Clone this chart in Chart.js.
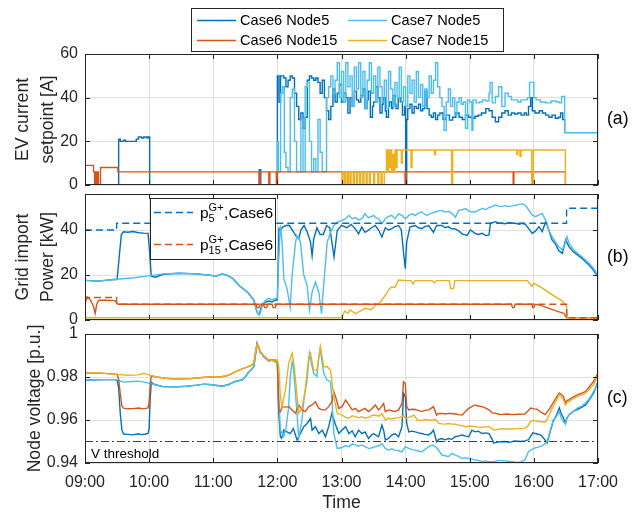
<!DOCTYPE html>
<html>
<head>
<meta charset="utf-8">
<script src="https://cdn.jsdelivr.net/npm/chart.js@4.4.1/dist/chart.umd.min.js"></script>
<style>
  body { margin: 0; background: #fff; }
  #wrap { position: relative; width: 638px; height: 514px; }
  #wrap canvas { position: absolute; left: 0; top: 0; }
</style>
</head>
<body>
<div id="wrap">
  <canvas id="chartA" width="638" height="514"></canvas>
  <canvas id="chartB" width="638" height="514"></canvas>
  <canvas id="chartC" width="638" height="514"></canvas>
</div>
<script>
// Time axis: minutes after 09:00
const hourLabels = ['09:00', '10:00', '11:00', '12:00', '13:00', '14:00', '15:00', '16:00', '17:00'];
const legendNames = ['Case6 Node5', 'Case7 Node5', 'Case6 Node15', 'Case7 Node15'];

// (a) EV current setpoint [A]  -- [minute, value]
const aCase6Node5 = [[0,0],[31.5,21],[33,20],[36,20.5],[38,20],[48,21],[50,22],[53,21.5],[55,22],[58,21.5],[59,22],[60.5,0],[163,7],[164.5,0],
  [180,50],[181.5,38],[183,50],[186,49],[188,45],[190,48],[192,50],[194,49],[196,42],[198,36],[200,30],[202,33],[204,26],[206,31],[208,48],[210,50],[212,49],[214,48],[216,49],[218,47],[220,42],[222,48],[224,40],[226,34],[228,30],[230,36],[232,44],[234,38],[236,42],[238,46],[240,38],
  [242,42],[244,40],[246,33],[248,40],[250,36],[252,43],[254,39],[256,38],[258,41],[260,44],[262,35],[264,39],[265,43],[267,31],[269,36],[270,38],[272,45],[274,40],[276,33],[278,37],[279,40],[281,34],[282,31],[284,36],[285,38],[287,35],[288,41],[290,37],[291,35],[293,40],[295,38],[297,32],[299,36],[300,0],[301,30],
  [302,35],[304,37],[306,33],[308,36],[310,35],[312,37],[314,34],[316,35],[318,43],[320,35],[322,32],[324,31],[326,33],[328,30],[330,32],[332,33],[335,30],[338,32],[341,29.7],[344,31],[347,33],[350,31],[353,30],[356,32],[359,31],
  [362,30.6],[365,31.5],[368,32],[371,33],[375,35],[378,34],[381,31],[384,29],[387,31],[390,33],[393,34],[396,32],[399,33],[402,32.5],[405,33],[408,32],[411,33],[413,32],[415,36],[417,40],[418.5,34],[421,33],[425,34],[428,33],[431,32],[434,31],[437,32],[440,30.6],[443,31],[445,33],[447,30],[448.8,24],[480,0]];
const aCase7Node5 = [[0,0],[180,20],[181,6],[183,42],[185,45],[186.5,15],[188,8],[190,6],[192,40],[194,44],[196,20],[198,6],[200,6],[202,30],[204,6],[206,45],[208,47],[210,20],[212,6],[214,12],[216,6],[218,30],[220,15],[222,6],[224,6],[226,40],[228,45],[230,50],[232,42],[234,48],[236,56],[238,40],[240,52],
  [242,38],[244,56],[246,45],[248,50],[250,36],[252,54],[254,44],[256,56],[258,40],[260,52],[262,35],[264,48],[266,56],[268,42],[270,50],[272,38],[274,54],[276,45],[278,38],[280,48],[282,35],[284,52],[286,44],[288,36],[290,47],[292,40],[294,54],[296,38],[298,45],[300,36],[302,50],
  [304,42],[306,48],[308,38],[310,52],[312,40],[314,46],[316,36],[318,44],[320,40],[322,50],[324,42],[326,48],[328,56],[330,45],[332,40],[334,36],[336,25],[338,38],[340,44],[342,36],[344,40],[346,32],[348,38],[350,40],[352,37],[354,38],[356,26],[358,39],
  [360,38],[362,25],[363,39],[366,37.6],[369,38],[372,39],[375,38.5],[378,42],[379,47],[381,37.6],[384,40.6],[387,45],[390,36],[393,42],[396,40.6],[399,39],[402,39],[405,38],[408,39],[411,39],[414,40],[416,47],[418,47],[420,40],[422,39],[426,38],[431,37.6],[436,38.5],[441,38],[444,37.6],[446,40.6],[448.8,24],[480,0]];
const aCase6Node15 = [[0,9],[8,6],[9,0],[10,6],[11,0],[11.5,6],[12.5,0],[14.5,8],[30.8,6],[163,0],[164,6],[172,0],[173,6],[179,0],[180,6],[299.5,0],[300.5,6],[400.6,0],[401.3,6],[418.5,0],[419.5,6],[449.5,0],[480,0]];
const aCase7Node15 = [[0,0],[240.5,6],[241.5,0],[243,6],[244,0],[245.5,6],[246.5,0],[248,6],[249,0],[251,6],[252,0],[254,6],[255,0],[257,6],[258,0],[260,6],[261,0],[263,6],[264,0],[266,6],[267,0],[270,6],[271,0],[274,6],[275,0],[277,6],[278,0],[280,6],[282,16],[283,6],[284,16],[285,8],[286,16],[287,6],[288,14],[289,6],[290,16],[291,8],[292,16],[296,10],[297,16],[305,8],[306,16],[327,14],[328,16],[343,0],[344,16],[404,14],[405,16],[407,13],[408,16],[418,0],[419.5,16],[449.5,0],[480,0]];

// (b) Grid import power [kW]
const bCase6Node5 = [[0,17.6],[12,17.3],[27,18],[30,18],[32,28],[34,38],[36,39.2],[40,39],[45,39.3],[50,38.8],[55,38.6],[59,38.5],[60.5,30],[62,19.5],[66,19],[73,20.3],[88,20.8],[104,20.5],[115,20],[123,19.5],[128,20.5],[132,20],[134,19.6],[138,18.5],[141,17],[145,15],[149,13.5],[153,11.9],[156,10],[158,8.9],[160,5],[161.5,3],[163,2.5],[164.5,5],[166,7],[169,8],[172,8.5],[175,8],[178,8.8],[180,9],
  [181.5,40.6],[183,39.8],[185,41.3],[188,42],[191,42.1],[194,40],[197,37.6],[200,36.1],[202,40],[205,42],[208,39],[211,34.6],[212.5,28.5],[214,36],[217,41],[220,38],[223,38],[226,42],[229,41],[231,34.6],[233,28],[236,39.8],[240,42.1],[245,41],[249,42.5],
  [252.8,40.6],[256,38.3],[259,41.3],[262,39],[265,39.8],[268,41],[271.6,42],[274.7,40],[277.8,36.9],[281,41],[284,40],[287,40.6],[290,41.5],[293.4,42],[296,40],[298,30.2],[299.7,22.8],[301,34.6],[304,41.3],[309,42],[312,41],[315,40.6],[318,41.5],[321.6,42],[326,39],[329,42],[334,42],[337,41],[340,41.5],[343,40.5],[346,40.6],[350,39.5],[352.8,38.3],[357.5,37.6],[360.6,40],
  [365,38.5],[368,38],[371.6,38.5],[375,37.5],[378,37.8],[379.4,43],[384,43.7],[387,43],[390,43],[393,42.8],[396.6,43.3],[400,43],[403,43],[406,42.6],[409,43],[412,42.5],[415,40.7],[418.4,38.5],[421.5,39.5],[424.7,41.5],[427.8,39.3],[431,43.7],[434,40],[437,35.6],[440,34],[443,31],[446.6,29.6],[449.7,35.6],[452.8,32.6],[456,30.8],[459,29.6],[462,28.5],[465,27.4],[468,26],[471.6,24.4],[475,22.6],[477.8,20.7],[480,19]];
const bCase7Node5 = [[0,17.6],[12,17.3],[27,18],[46,18.75],[58,19.5],[73,20.5],[88,20.8],[104,20.5],[115,20],[123,19.5],[128,20.5],[132,20],[134,19.6],[138,18.5],[141,17],[145,15],[149,13.5],[153,11.9],[156,10],[158,8.9],[160,5],[161.5,3],[163,2.1],[164.5,4],[166,6.5],[169,8.9],[172,9.6],[175,8.9],[178,9.6],[180,9.6],
  [181.3,27.2],[182.8,42],[184.4,34.6],[186,18.5],[189,13.9],[192,5.7],[193.8,20],[197,34.6],[198.4,37.6],[201.6,34.6],[204.7,20],[207.8,15.4],[210,4.4],[212.5,12.4],[215.6,16.9],[218.8,12.4],[221.3,2.8],[223.4,16],[226.6,34.6],[229.7,39],[232.8,42],[236,43.5],[240.6,44.3],[243.8,45],[246.9,46.5],[250,45],[253,45.5],[256,44.5],
  [259,45],[262,47.2],[265,45.5],[268,46],[270,46.5],[272,45.5],[274.7,45],[277.8,42.8],[281,45],[284,46],[287,46.5],[290,45],[293.4,47.2],[296.6,46.5],[299.7,45],[303,46.5],[306,47.2],[309,46.5],[312,47.5],[315,48],[318,47],[320,46.5],[324,47.5],[328,48],[331,48.5],[334,48.7],[337,48],[340,48.3],[343,47.5],[346.6,45.7],[349.7,48.7],[353,49],[356,49.5],[359,48.5],
  [362,48],[366,48.2],[369,49],[372,49.6],[375,49],[378,50],[381,50.4],[384,51.1],[387,50.6],[390,50.4],[393,50.8],[396.6,50.4],[400,50.7],[403,51],[406,51.4],[409,51.6],[412,51],[415,49],[418.4,46.7],[421.5,45.9],[424.7,46.7],[427.8,47.4],[431,44.4],[434,40],[437,37],[440,34.8],[443,32.6],[446.6,31.1],[449,34],[451,37],[452.8,34],[456,32],[459,30.4],[462,29.2],[465,28.1],[468,26.8],[471.6,25.2],[475,23.5],[477.8,21.5],[480,19.5]];
const bCase6Node15 = [[0,7.3],[2,10.2],[5,9],[8,6],[9.5,2.9],[11,7],[13,8.8],[20,8.8],[28,8.6],[31,7],[160,7],[161,5.5],[163,5.5],[164,7],[167,7],[168,5.5],[170,5.5],[171,7],[175,7],[176,5.5],[178,5.5],[179,7],[399,7],[400,5.5],[401.5,5.5],[402.5,7],[418,7],[419,5.5],[420,5.5],[421,7],[425,6.7],[434,5.2],[443,3.7],[448,3],[450.6,1],[480,1]];
const bCase7Node15 = [[0,1],[240,1],[241,2],[243,4],[246,3],[248,4.5],[251,3.5],[253,2.8],[256,3.6],[258,4],[262,5.2],[265,5],[267,4.5],[270,5.5],[272,6.7],[275,7.4],[278,9],[281,11],[284,13.3],[287,14.8],[290,14.5],[293.4,17.8],[300,17.5],[305,17.5],[307,16],[309,17.5],[325,17.5],[327,16.5],[329,17.5],[341,17.5],[342,14],[345,14],[346,17.5],[414,17.5],[418,15],[420,16.3],[428,14.2],[437,11.3],[446.6,8.4],[450.6,6],[451.5,1],[480,1]];
const bP5Case6 = [[0,40],[29.6,43],[450.6,49.7],[480,49.7]];
const bP15Case6 = [[0,50],[0.3,10],[29.6,7],[450.6,1],[480,1]];

// (c) Node voltage [p.u.]
const cCase6Node5 = [[0,0.9785],[10,0.9787],[20,0.9788],[28,0.9788],[30,0.9785],[31.5,0.975],[33,0.963],[34.5,0.9555],[36,0.9535],[40,0.9533],[45,0.9531],[50,0.9536],[53,0.9532],[56,0.9534],[59,0.9538],[60,0.956],[61,0.97],[62,0.9775],[65,0.9765],[73,0.9755],[85,0.9754],[95,0.9757],[105,0.9762],[111,0.9767],[119,0.9764],[128,0.9757],[134,0.9764],[140,0.9778],[147,0.9787],[150,0.98],[153,0.9822],[156,0.9836],[158,0.9849],[160,0.992],[161,0.9956],[162.5,0.9935],[164,0.9918],[167,0.9895],[172,0.9875],[175,0.9879],[178,0.9872],[180,0.9866],
  [181.3,0.9631],[182.8,0.9522],[184,0.9515],[186,0.9553],[189,0.9545],[192,0.9537],[195,0.956],[198.4,0.9507],[201.6,0.9537],[204.7,0.9569],[207.8,0.9584],[211,0.9607],[212.5,0.9553],[215.6,0.9569],[218.8,0.9537],[222,0.9553],[225,0.9522],[228,0.9569],[231,0.9631],[234,0.9584],[237.5,0.9537],[240.6,0.9553],[243.8,0.9569],[247,0.9537],[250,0.955],
  [252.8,0.9522],[256,0.9553],[259,0.9537],[262,0.9545],[265.3,0.9514],[268,0.953],[270,0.9537],[274.7,0.9522],[277.8,0.9576],[279.5,0.955],[281,0.9507],[284,0.9514],[287,0.953],[290,0.9537],[293.4,0.9522],[296.6,0.9569],[298,0.9724],[299.7,0.9709],[301,0.9584],[303,0.9545],[306,0.9548],[309,0.9545],[312,0.954],[315,0.9537],[318,0.9533],[321.6,0.953],[324,0.954],[326,0.9553],[329,0.9499],[331,0.951],[334,0.9514],[337,0.9508],[340,0.9514],[343,0.951],[346.6,0.9522],[350,0.9526],[353,0.953],[356,0.9525],[359,0.9522],
  [362,0.9553],[365,0.9545],[368,0.9548],[371.6,0.9537],[375,0.954],[378,0.9537],[381,0.951],[382.5,0.9492],[386,0.9498],[392.5,0.95],[397,0.9496],[402,0.9502],[407.7,0.95],[412,0.9503],[415,0.9508],[419,0.954],[423,0.9535],[426.7,0.953],[430,0.951],[432.4,0.9493],[435,0.954],[438,0.9594],[441,0.962],[443.8,0.9656],[445.5,0.963],[447.6,0.961],[449.5,0.9586],[451,0.961],[453,0.9625],[457,0.964],[461,0.965],[465,0.966],[468.5,0.967],[472,0.9695],[476,0.9726],[480,0.978]];
const cCase7Node5 = [[0,0.9785],[10,0.9787],[20,0.9788],[28,0.9788],[32,0.9783],[36,0.9776],[45,0.9779],[50,0.9781],[58,0.9774],[65,0.9765],[73,0.9755],[85,0.9754],[95,0.9757],[105,0.9762],[111,0.9767],[119,0.9764],[128,0.9757],[134,0.9764],[140,0.9778],[147,0.9787],[150,0.98],[153,0.9822],[156,0.9836],[158,0.9849],[160,0.992],[161,0.9956],[162.5,0.9935],[164,0.9918],[167,0.9895],[172,0.9875],[175,0.9879],[178,0.9872],[180,0.9866],
  [181.3,0.9709],[182.8,0.9554],[186,0.9523],[188,0.956],[190.6,0.9662],[192,0.98],[193.8,0.9871],[195,0.984],[197,0.9724],[200,0.9514],[203,0.96],[205,0.97],[207.8,0.9786],[210,0.991],[212,0.986],[214,0.9817],[217,0.9802],[218.5,0.988],[220,0.9933],[221.5,0.988],[223.4,0.9817],[226.6,0.9786],[229.7,0.9778],[231,0.97],[232.8,0.9538],[236,0.9468],[240.6,0.9472],[243,0.948],[246.9,0.9476],[250,0.9488],
  [253,0.9484],[256,0.9478],[259,0.9484],[262,0.9476],[265.3,0.9468],[268,0.947],[271.6,0.9476],[275,0.948],[277.8,0.9491],[281,0.9468],[284,0.946],[287,0.9466],[290,0.946],[293,0.9458],[296.6,0.9452],[299.7,0.9476],[303,0.9468],[306,0.9462],[309,0.946],[312,0.9456],[315,0.9452],[318,0.9462],[321,0.9474],[324.7,0.9484],[328,0.9476],[331,0.9458],[334,0.9437],[337,0.9434],[340,0.9429],[343.4,0.9445],[346.6,0.9437],[350,0.943],[353,0.9421],[356,0.9424],[359,0.9421],
  [362,0.9418],[365,0.9414],[368,0.9412],[371.6,0.9406],[375,0.941],[378,0.9406],[382.5,0.9406],[387,0.9412],[392.5,0.941],[398,0.9407],[404,0.9403],[408,0.9405],[411.5,0.9414],[415,0.9454],[418,0.9462],[421,0.947],[424,0.9474],[426.7,0.9478],[430,0.9488],[432.4,0.95],[435,0.9545],[438,0.96],[441,0.9615],[443.8,0.964],[445.5,0.961],[447.6,0.9594],[449.5,0.958],[451,0.961],[453,0.9625],[457,0.964],[461,0.9656],[465,0.9665],[468.5,0.968],[472,0.97],[476,0.9733],[480,0.977]];
const cCase6Node15 = [[0,0.9819],[15,0.9818],[30,0.9812],[31.5,0.979],[33,0.972],[34.5,0.9665],[36,0.9655],[40,0.9652],[45,0.9653],[50,0.9656],[55,0.9652],[59,0.9656],[60,0.9685],[61,0.976],[62,0.9805],[67,0.98],[75,0.9794],[85,0.979],[100,0.9793],[115,0.98],[128,0.9801],[134,0.9808],[140,0.9823],[147,0.9838],[153,0.9848],[156,0.9855],[158,0.9865],[160,0.993],[161,0.9952],[162.5,0.994],[164,0.9912],[167,0.99],[171.5,0.988],[175,0.9878],[178,0.988],[180,0.9877],
  [181.3,0.9647],[182.8,0.9639],[184.4,0.9662],[187.5,0.966],[190.6,0.9662],[193.8,0.9647],[197,0.9631],[200,0.967],[203,0.9647],[206,0.9639],[209.4,0.9662],[212.5,0.967],[215.6,0.9685],[218.8,0.9654],[222,0.9647],[225,0.9647],[228,0.9662],[231,0.9685],[232.8,0.9732],[234.4,0.9709],[237.5,0.9654],[240.6,0.9662],[243.8,0.9693],[247,0.967],[250,0.9647],
  [253,0.9654],[256,0.9639],[259,0.9647],[262,0.9654],[265.3,0.9639],[268,0.965],[271.6,0.967],[274.7,0.9647],[277,0.966],[279.4,0.9677],[281,0.9639],[284,0.9647],[287,0.9643],[290,0.9639],[293.4,0.9647],[296.6,0.9677],[298,0.9778],[299.7,0.977],[301,0.9662],[303,0.9647],[306,0.965],[309,0.9649],[312,0.9645],[315,0.9639],[318,0.9645],[321.6,0.9647],[324,0.9655],[326,0.9662],[329,0.9623],[331,0.963],[334,0.9631],[337,0.9628],[340,0.9631],[343,0.963],[346.6,0.9628],[350,0.9625],[353,0.9623],[356,0.964],[359,0.9654],
  [362,0.9662],[365,0.967],[368,0.9665],[371.6,0.9662],[375,0.9655],[378,0.9647],[381,0.9633],[385,0.963],[388.7,0.9625],[395,0.9628],[400,0.9625],[405,0.9627],[411.5,0.9628],[414,0.964],[417,0.9656],[420,0.9652],[423,0.965],[427,0.9635],[430.5,0.9625],[433,0.964],[435,0.9655],[438,0.968],[441,0.9705],[443.8,0.9726],[445.5,0.972],[447.6,0.971],[449.5,0.968],[451,0.969],[453,0.9695],[457,0.9708],[461,0.9718],[465,0.9725],[468.5,0.9733],[472,0.9755],[476,0.978],[480,0.9819]];
const cCase7Node15 = [[0,0.9819],[15,0.9818],[30,0.9812],[40,0.9808],[50,0.981],[55,0.9817],[60,0.981],[67,0.98],[75,0.9794],[85,0.979],[100,0.9793],[115,0.98],[128,0.9801],[134,0.9808],[140,0.9823],[147,0.9838],[153,0.9848],[156,0.9855],[158,0.9865],[160,0.993],[161,0.9952],[162.5,0.994],[164,0.9912],[167,0.99],[171.5,0.988],[175,0.9878],[178,0.988],[180,0.9877],
  [181.3,0.9848],[182.8,0.9709],[184.4,0.9662],[187.5,0.974],[190.6,0.9864],[193.8,0.991],[195.5,0.986],[197,0.9786],[200,0.9631],[203,0.9654],[206,0.974],[209.4,0.9895],[211,0.991],[214,0.9832],[217,0.9832],[218.8,0.989],[220.3,0.9941],[222,0.989],[223.4,0.9848],[226.6,0.9848],[229.7,0.9832],[232.8,0.9709],[236,0.9631],[240.6,0.9623],[244,0.9612],[247,0.9608],[250,0.962],
  [253,0.9615],[256,0.961],[259,0.9615],[262,0.9608],[265.3,0.9612],[268,0.962],[271.6,0.9623],[275,0.9618],[277.8,0.9631],[281,0.96],[284,0.9608],[287,0.9605],[290,0.9608],[293,0.961],[296.6,0.9615],[298,0.9623],[299.7,0.9608],[303,0.9612],[306,0.9618],[307.8,0.9623],[311,0.96],[315,0.9597],[318,0.9602],[321.6,0.96],[325,0.9598],[328,0.9603],[331,0.9584],[334,0.9582],[337,0.9581],[340,0.9584],[343.4,0.9581],[346.6,0.958],[350,0.9576],[353,0.9574],[356,0.9569],
  [360.6,0.9572],[365,0.9569],[368,0.9567],[371.6,0.9566],[375,0.9568],[378,0.9569],[381,0.956],[382.5,0.9553],[388,0.9558],[396,0.9558],[404,0.956],[411.5,0.9562],[414,0.957],[417,0.9594],[420,0.9598],[423,0.9594],[427,0.9592],[430.5,0.959],[433,0.961],[435,0.963],[438,0.9664],[441,0.969],[443.8,0.9718],[445.5,0.971],[447.6,0.9695],[449.5,0.967],[451,0.968],[453,0.9687],[457,0.97],[461,0.971],[465,0.9718],[468.5,0.9726],[472,0.9745],[476,0.9764],[480,0.9814]];
const cThreshold = [[0,0.95],[480,0.95]];

// Styles
const FONT = '"Liberation Sans", Arial, Helvetica, sans-serif';
const INK = '#262626';
const GRID = '#e0e0e0';
const COLORS = ['#0072BD', '#4DBEEE', '#D95319', '#EDB120'];

Chart.defaults.font.family = FONT;
Chart.defaults.color = INK;

const toXY = pts => pts.map(p => ({ x: p[0], y: p[1] }));

function line(pts, color, i, extra) {
    return Object.assign({
        data: toXY(pts),
        borderColor: color,
        borderWidth: 1.4,
        pointRadius: 0,
        fill: false,
        tension: 0,
        order: -i
    }, extra || {});
}

function xScale(showX) {
    return {
        type: 'linear', min: 0, max: 480,
        grid: { color: GRID, drawTicks: false },
        border: { display: false },
        ticks: {
            display: showX, stepSize: 60, padding: 10, maxRotation: 0, autoSkip: false,
            color: INK, font: { size: 16 },
            callback: v => hourLabels[Math.round(v / 60)]
        },
        title: { display: showX, text: 'Time', color: INK, font: { size: 17.6 }, padding: { top: 0, bottom: 0 } },
        afterFit: s => { s.height = showX ? 51 : 0; }
    };
}

function yScale(cfg) {
    return {
        type: 'linear', min: cfg.min, max: cfg.max,
        grid: { color: GRID, drawTicks: false },
        border: { display: false },
        ticks: {
            stepSize: cfg.step, includeBounds: false, padding: 7,
            color: INK, font: { size: 16 },
            callback: v => String(Math.round(v * 100) / 100)
        },
        title: { display: true, text: cfg.title, color: INK, font: { size: 17.6, lineHeight: 1.4 }, padding: { top: cfg.titlePad, bottom: 0 } },
        afterFit: s => { s.width = 85; }
    };
}

// Axes box, inward tick marks and panel tag
function framePlugin(tag) {
    return {
        id: 'frame',
        afterDraw(chart) {
            const { ctx, chartArea: a } = chart;
            const xs = chart.scales.x, ys = chart.scales.y;
            ctx.save();
            ctx.strokeStyle = INK;
            ctx.lineWidth = 1;
            ctx.beginPath();
            xs.ticks.forEach(t => {
                const px = Math.round(xs.getPixelForValue(t.value)) + 0.5;
                ctx.moveTo(px, a.top); ctx.lineTo(px, a.top + 5);
                ctx.moveTo(px, a.bottom); ctx.lineTo(px, a.bottom - 5);
            });
            ys.ticks.forEach(t => {
                const py = Math.round(ys.getPixelForValue(t.value)) + 0.5;
                ctx.moveTo(a.left, py); ctx.lineTo(a.left + 5, py);
                ctx.moveTo(a.right, py); ctx.lineTo(a.right - 5, py);
            });
            ctx.stroke();
            ctx.strokeRect(a.left + 0.5, a.top + 0.5, a.right - a.left - 1, a.bottom - a.top - 1);
            ctx.fillStyle = '#000';
            ctx.font = '17.6px ' + FONT;
            ctx.textAlign = 'left';
            ctx.textBaseline = 'middle';
            ctx.fillText(tag, 607, (a.top + a.bottom) / 2);
            ctx.restore();
        }
    };
}

// Legend above panel (a)
const topLegend = {
    id: 'topLegend',
    afterDraw(chart) {
        const ctx = chart.ctx;
        ctx.save();
        ctx.fillStyle = '#fff';
        ctx.fillRect(191.5, 8.5, 312, 43);
        ctx.strokeStyle = INK;
        ctx.lineWidth = 1;
        ctx.strokeRect(191.5, 8.5, 312, 43);
        const cols = [197, 348], rows = [20, 40];
        ctx.font = '14.6px ' + FONT;
        ctx.textBaseline = 'middle';
        legendNames.forEach((name, i) => {
            const x = cols[i % 2], y = rows[Math.floor(i / 2)];
            ctx.strokeStyle = COLORS[i];
            ctx.lineWidth = 1.6;
            ctx.beginPath();
            ctx.moveTo(x, y + 0.5); ctx.lineTo(x + 39, y + 0.5);
            ctx.stroke();
            ctx.fillStyle = '#000';
            ctx.fillText(name, x + 43, y + 1);
        });
        ctx.restore();
    }
};

// Legend inside panel (b): p with super/subscripts
const powerLegend = {
    id: 'powerLegend',
    afterDraw(chart) {
        const ctx = chart.ctx;
        ctx.save();
        ctx.fillStyle = '#fff';
        ctx.fillRect(150.5, 198.5, 125, 61);
        ctx.strokeStyle = INK;
        ctx.lineWidth = 1;
        ctx.strokeRect(150.5, 198.5, 125, 61);
        [['5', COLORS[0], 212], ['15', COLORS[2], 244]].forEach(([sub, color, y]) => {
            ctx.strokeStyle = color;
            ctx.lineWidth = 1.4;
            ctx.setLineDash([7, 4]);
            ctx.beginPath();
            ctx.moveTo(154, y + 0.5); ctx.lineTo(193, y + 0.5);
            ctx.stroke();
            ctx.setLineDash([]);
            const base = y + 5.5;
            let x = 200;
            ctx.fillStyle = '#000';
            ctx.textBaseline = 'alphabetic';
            ctx.font = '15.5px ' + FONT;
            ctx.fillText('p', x, base);
            x += ctx.measureText('p').width;
            ctx.font = '11px ' + FONT;
            ctx.fillText('G+', x, base - 6.5);
            ctx.fillText(sub, x, base + 4.5);
            x += Math.max(ctx.measureText('G+').width, ctx.measureText(sub).width) + 0.5;
            ctx.font = '15.5px ' + FONT;
            ctx.fillText(',Case6', x, base);
        });
        ctx.restore();
    }
};

const thresholdLabel = {
    id: 'thresholdLabel',
    afterDraw(chart) {
        const ctx = chart.ctx;
        ctx.save();
        ctx.fillStyle = '#000';
        ctx.font = '13.5px ' + FONT;
        ctx.textBaseline = 'alphabetic';
        ctx.fillText('V threshold', 91, 458);
        ctx.restore();
    }
};

function makeChart(id, datasets, cfg) {
    return new Chart(document.getElementById(id), {
        type: 'line',
        data: { datasets },
        options: {
            responsive: false,
            animation: false,
            events: [],
            parsing: false,
            layout: { padding: cfg.pad },
            plugins: { legend: { display: false }, tooltip: { enabled: false } },
            scales: { x: xScale(cfg.showX), y: yScale(cfg) }
        },
        plugins: cfg.plugins
    });
}

document.addEventListener('DOMContentLoaded', () => {
    makeChart('chartA', [
        line(aCase6Node5, COLORS[0], 0, { stepped: true }),
        line(aCase7Node5, COLORS[1], 1, { stepped: true }),
        line(aCase6Node15, COLORS[2], 2, { stepped: true }),
        line(aCase7Node15, COLORS[3], 3, { stepped: true })
    ], {
        min: 0, max: 60, step: 20, title: ['EV current', 'setpoint [A]'], titlePad: 11,
        pad: { left: 0, right: 40, top: 54, bottom: 329 }, showX: false,
        plugins: [framePlugin('(a)'), topLegend]
    });

    makeChart('chartB', [
        line(bCase6Node5, COLORS[0], 0),
        line(bCase7Node5, COLORS[1], 1),
        line(bCase6Node15, COLORS[2], 2),
        line(bCase7Node15, COLORS[3], 3),
        line(bP5Case6, COLORS[0], 4, { stepped: true, borderDash: [7, 4] }),
        line(bP15Case6, COLORS[2], 5, { stepped: true, borderDash: [7, 4] })
    ], {
        min: 0, max: 56, step: 20, title: ['Grid import', 'Power [kW]'], titlePad: 11,
        pad: { left: 0, right: 40, top: 194, bottom: 194 }, showX: false,
        plugins: [framePlugin('(b)'), powerLegend]
    });

    makeChart('chartC', [
        line(cCase6Node5, COLORS[0], 0),
        line(cCase7Node5, COLORS[1], 1),
        line(cCase6Node15, COLORS[2], 2),
        line(cCase7Node15, COLORS[3], 3),
        line(cThreshold, '#404040', 4, { borderDash: [8, 3, 2, 3], borderWidth: 1 })
    ], {
        min: 0.94, max: 1, step: 0.02, title: 'Node voltage [p.u.]', titlePad: 23,
        pad: { left: 0, right: 40, top: 334, bottom: 0 }, showX: true,
        plugins: [framePlugin('(c)'), thresholdLabel]
    });
});
</script>
</body>
</html>
